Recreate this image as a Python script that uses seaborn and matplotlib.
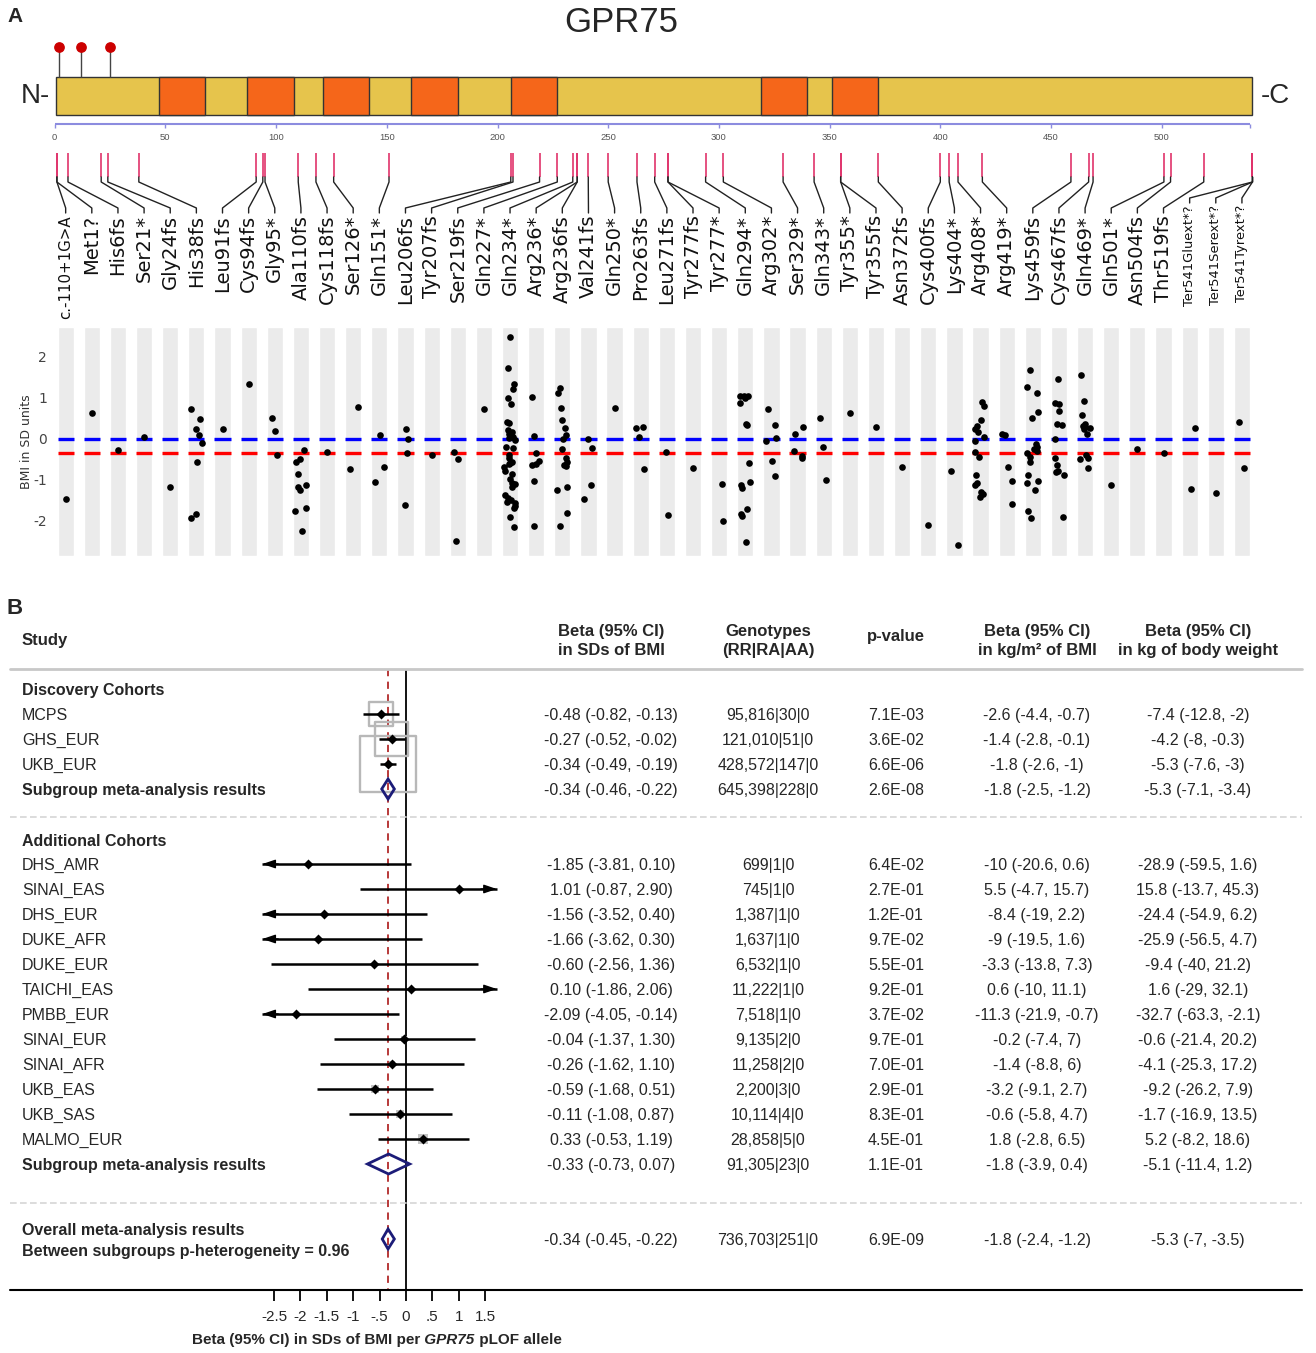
import numpy as np
import pandas as pd
import matplotlib
matplotlib.use("Agg")
import matplotlib.pyplot as plt
from matplotlib import font_manager
from matplotlib.patches import Rectangle, Polygon
import seaborn as sns

# ---------------- Panel A data: GPR75 protein + pLOF variants ----------------
protein_len = 541
tm_domains = [(47, 68), (87, 108), (121, 142), (161, 182), (206, 227), (319, 340), (351, 372)]
glyco_sites = [2, 12, 25]
protein_ticks = [0, 50, 100, 150, 200, 250, 300, 350, 400, 450, 500]

variants = ["c.-110+1G>A", "Met1?", "His6fs", "Ser21*", "Gly24fs", "His38fs", "Leu91fs",
            "Cys94fs", "Gly95*", "Ala110fs", "Cys118fs", "Ser126*", "Gln151*", "Leu206fs",
            "Tyr207fs", "Ser219fs", "Gln227*", "Gln234*", "Arg236*", "Arg236fs", "Val241fs",
            "Gln250*", "Pro263fs", "Leu271fs", "Tyr277fs", "Tyr277*", "Gln294*", "Arg302*",
            "Ser329*", "Gln343*", "Tyr355*", "Tyr355fs", "Asn372fs", "Cys400fs", "Lys404*",
            "Arg408*", "Arg419*", "Lys459fs", "Cys467fs", "Gln469*", "Gln501*", "Asn504fs",
            "Thr519fs", "Ter541Gluext*?", "Ter541Serext*?", "Ter541Tyrext*?"]
variant_pos = [1, 1, 6, 21, 24, 38, 91, 94, 95, 110, 118, 126, 151, 206, 207, 219, 227, 234,
               236, 236, 241, 250, 263, 271, 277, 277, 294, 302, 329, 343, 355, 355, 372, 400,
               404, 408, 419, 459, 467, 469, 501, 504, 519, 541, 541, 541]

# BMI (SD units) of carriers, one list per variant
bmi_sd = [
    [-1.48],
    [0.63],
    [-0.27],
    [0.05],
    [-1.19],
    [0.71, 0.48, 0.24, 0.08, -0.11, -0.56, -1.83, -1.94],
    [0.24],
    [1.33],
    [0.50, 0.19, -0.40],
    [-0.27, -0.50, -0.57, -0.87, -1.12, -1.19, -1.26, -1.68, -1.76, -2.25],
    [-0.32],
    [0.77, -0.75],
    [0.08, -0.70, -1.05],
    [0.23, 0.00, -0.35, -1.61],
    [-0.39],
    [-0.32, -0.50, -2.50],
    [0.71],
    [2.47, 1.73, 1.33, 1.21, 1.00, 0.85, 0.41, 0.39, 0.21, 0.15, 0.11, 0.09, 0.05, 0.02,
     -0.03, -0.20, -0.24, -0.41, -0.46, -0.58, -0.60, -0.62, -0.68, -0.78, -0.86, -0.98,
     -1.08, -1.11, -1.19, -1.37, -1.45, -1.50, -1.54, -1.58, -1.65, -1.70, -1.92, -2.15],
    [1.02, 0.07, -0.34, -0.54, -0.62, -0.64, -1.04, -2.14],
    [1.23, 1.11, 0.75, 0.46, 0.25, 0.10, -0.02, -0.26, -0.48, -0.56, -0.64, -0.66, -1.17,
     -1.24, -1.82, -2.12],
    [-0.02, -0.24, -1.14, -1.48],
    [0.75],
    [0.28, 0.27, 0.05, -0.73],
    [-0.33, -1.85],
    [-0.72],
    [-1.10, -2.01],
    [1.05, 1.04, 1.03, 1.00, 0.88, 0.36, 0.32, -0.59, -1.05, -1.13, -1.21, -1.72, -1.83,
     -1.89, -2.53],
    [0.72, 0.33, 0.01, -0.06, -0.54, -0.90],
    [0.29, 0.12, -0.29, -0.42, -0.47],
    [0.50, -0.20, -1.02],
    [0.63],
    [0.28],
    [-0.69],
    [-2.11],
    [-2.60, -0.80],
    [0.89, 0.80, 0.46, 0.31, 0.24, 0.15, 0.03, -0.07, -0.33, -0.45, -0.89, -1.09, -1.13,
     -1.29, -1.36, -1.43],
    [0.12, 0.08, -0.69, -1.03, -1.59],
    [1.67, 1.26, 1.11, 0.64, 0.50, -0.14, -0.20, -0.25, -0.30, -0.34, -0.44, -0.57, -0.89,
     -1.03, -1.08, -1.26, -1.77, -1.93],
    [1.46, 0.88, 0.84, 0.67, 0.36, 0.33, 0.00, -0.47, -0.64, -0.78, -0.81, -0.89, -1.91],
    [1.54, 0.92, 0.58, 0.35, 0.31, 0.28, 0.27, 0.24, 0.12, -0.40, -0.46, -0.50, -0.71],
    [-1.14],
    [-0.26],
    [-0.36],
    [0.26, -1.22],
    [-1.33],
    [0.41, -0.71],
]
bmi_ref = 0.0
bmi_plof_mean = -0.34

# ---------------- Panel B data: forest plot ----------------
disc_names = ["MCPS", "GHS_EUR", "UKB_EUR"]
disc_beta = [-0.48, -0.27, -0.34]
disc_lo = [-0.82, -0.52, -0.49]
disc_hi = [-0.13, -0.02, -0.19]
disc_geno = ["95,816|30|0", "121,010|51|0", "428,572|147|0"]
disc_p = ["7.1E-03", "3.6E-02", "6.6E-06"]
disc_kgm2 = ["-2.6 (-4.4, -0.7)", "-1.4 (-2.8, -0.1)", "-1.8 (-2.6, -1)"]
disc_kg = ["-7.4 (-12.8, -2)", "-4.2 (-8, -0.3)", "-5.3 (-7.6, -3)"]

add_names = ["DHS_AMR", "SINAI_EAS", "DHS_EUR", "DUKE_AFR", "DUKE_EUR", "TAICHI_EAS",
             "PMBB_EUR", "SINAI_EUR", "SINAI_AFR", "UKB_EAS", "UKB_SAS", "MALMO_EUR"]
add_beta = [-1.85, 1.01, -1.56, -1.66, -0.60, 0.10, -2.09, -0.04, -0.26, -0.59, -0.11, 0.33]
add_lo = [-3.81, -0.87, -3.52, -3.62, -2.56, -1.86, -4.05, -1.37, -1.62, -1.68, -1.08, -0.53]
add_hi = [0.10, 2.90, 0.40, 0.30, 1.36, 2.06, -0.14, 1.30, 1.10, 0.51, 0.87, 1.19]
add_geno = ["699|1|0", "745|1|0", "1,387|1|0", "1,637|1|0", "6,532|1|0", "11,222|1|0",
            "7,518|1|0", "9,135|2|0", "11,258|2|0", "2,200|3|0", "10,114|4|0", "28,858|5|0"]
add_p = ["6.4E-02", "2.7E-01", "1.2E-01", "9.7E-02", "5.5E-01", "9.2E-01", "3.7E-02",
         "9.7E-01", "7.0E-01", "2.9E-01", "8.3E-01", "4.5E-01"]
add_kgm2 = ["-10 (-20.6, 0.6)", "5.5 (-4.7, 15.7)", "-8.4 (-19, 2.2)", "-9 (-19.5, 1.6)",
            "-3.3 (-13.8, 7.3)", "0.6 (-10, 11.1)", "-11.3 (-21.9, -0.7)", "-0.2 (-7.4, 7)",
            "-1.4 (-8.8, 6)", "-3.2 (-9.1, 2.7)", "-0.6 (-5.8, 4.7)", "1.8 (-2.8, 6.5)"]
add_kg = ["-28.9 (-59.5, 1.6)", "15.8 (-13.7, 45.3)", "-24.4 (-54.9, 6.2)",
          "-25.9 (-56.5, 4.7)", "-9.4 (-40, 21.2)", "1.6 (-29, 32.1)", "-32.7 (-63.3, -2.1)",
          "-0.6 (-21.4, 20.2)", "-4.1 (-25.3, 17.2)", "-9.2 (-26.2, 7.9)",
          "-1.7 (-16.9, 13.5)", "5.2 (-8.2, 18.6)"]

sub_beta = [-0.34, -0.33]
sub_lo = [-0.46, -0.73]
sub_hi = [-0.22, 0.07]
sub_geno = ["645,398|228|0", "91,305|23|0"]
sub_p = ["2.6E-08", "1.1E-01"]
sub_kgm2 = ["-1.8 (-2.5, -1.2)", "-1.8 (-3.9, 0.4)"]
sub_kg = ["-5.3 (-7.1, -3.4)", "-5.1 (-11.4, 1.2)"]

overall_beta, overall_lo, overall_hi = -0.34, -0.45, -0.22
overall_geno = "736,703|251|0"
overall_p = "6.9E-09"
overall_kgm2 = "-1.8 (-2.4, -1.2)"
overall_kg = "-5.3 (-7, -3.5)"
p_het = 0.96
forest_ticks = [-2.5, -2, -1.5, -1, -0.5, 0, 0.5, 1, 1.5]

# ---------------- figure setup ----------------
sns.set_theme(style="white")
plt.rcParams["font.family"] = ["Liberation Sans", "DejaVu Sans"]

# narrow font for the table numbers if it is installed
try:
    font_manager.findfont("Liberation Sans Narrow", fallback_to_default=False)
    NARROW, NUM_FS, HEAD_FS = "Liberation Sans Narrow", 13.5, 14
except ValueError:
    NARROW, NUM_FS, HEAD_FS = "Liberation Sans", 11.5, 12

W, H = 1316, 1353
fig = plt.figure(figsize=(W / 100, H / 100), dpi=100, facecolor="white")


def rect(x0, y0, x1, y1):
    return [x0 / W, 1 - y1 / H, (x1 - x0) / W, (y1 - y0) / H]


YELLOW = "#e6c44c"
ORANGE = "#f5661a"

# protein track axes: x in residues, y in pixels from the top
RES0, PPR = 54.7, 2.214
ax_top = fig.add_axes(rect(0, 0, W, 330))
ax_top.set_xlim(-RES0 / PPR, (W - RES0) / PPR)
ax_top.set_ylim(330, 0)
ax_top.axis("off")

# scatter axes (one grey panel per variant)
ax_sc = fig.add_axes(rect(52.6, 327, 1255, 556))
ax_sc.patch.set_alpha(0)

df = pd.DataFrame({
    "variant": np.repeat(variants, [len(v) for v in bmi_sd]),
    "bmi": np.concatenate(bmi_sd),
})
np.random.seed(7)
sns.stripplot(data=df, x="variant", y="bmi", order=variants, color="black", size=4.8,
              jitter=0.22, linewidth=0, ax=ax_sc, zorder=4)

xs = np.arange(len(variants))
ylo, yhi = -2.86, 2.72
ax_sc.bar(xs, yhi - ylo, bottom=ylo, width=0.62, color="#ebebeb", zorder=0)
ax_sc.hlines(np.full(len(xs), bmi_ref), xs - 0.31, xs + 0.31, color="#0000ff", lw=2.4,
             zorder=2)
ax_sc.hlines(np.full(len(xs), bmi_plof_mean), xs - 0.31, xs + 0.31, color="#ff0000", lw=2.4,
             zorder=2)
ax_sc.set_xlim(-0.5, len(variants) - 0.5)
ax_sc.set_ylim(ylo, yhi)
ax_sc.set_xticks([])
ax_sc.set_xlabel("")
ax_sc.set_yticks([-2, -1, 0, 1, 2])
ax_sc.set_yticklabels(["-2", "-1", "0", "1", "2"], family="DejaVu Sans")
ax_sc.tick_params(axis="y", length=0, pad=4, labelsize=10, labelcolor="#444444")
ax_sc.set_ylabel("BMI in SD units", fontsize=9, labelpad=0, color="#333333",
                 family="DejaVu Sans")
for sp in ax_sc.spines.values():
    sp.set_visible(False)

# protein bar
ax_top.add_patch(Rectangle((0.5, 77), protein_len - 0.5, 38, facecolor=YELLOW,
                           edgecolor="#333333", lw=1))
for a, b in tm_domains:
    ax_top.add_patch(Rectangle((a, 77), b - a, 38, facecolor=ORANGE,
                               edgecolor="#333333", lw=1))
ax_top.vlines(glyco_sites, 47, 77, color="#444444", lw=1)
ax_top.scatter(glyco_sites, [47] * len(glyco_sites), s=45, color="#cc0000", zorder=3)

# residue axis
ax_top.hlines(124, 0, protein_len - 1, color="#8c8cdf", lw=1.5)
ax_top.vlines(protein_ticks + [protein_len - 1], 124, 128, color="#8c8cdf", lw=1)
for t in protein_ticks:
    ax_top.text(t, 137, str(t), fontsize=6.8, ha="center", va="center", color="#555555")

# variant markers, connectors and labels
ax_top.vlines(variant_pos, 153, 177, color="#e0336b", lw=1.2)
to_top = ax_top.transData.inverted()
for i, (name, pos) in enumerate(zip(variants, variant_pos)):
    lx = to_top.transform(ax_sc.transData.transform((i, 0)))[0]
    small = name.startswith("Ter541")
    y_end = 198 if small else 208
    ax_top.plot([pos, pos, lx, lx], [177, 182, y_end, y_end + 5], color="#222222", lw=1)
    fs = 9.4 if small else (10.8 if name.startswith("c.") else 14)
    ax_top.text(lx, y_end + 7, name, rotation=90, ha="center", va="top", fontsize=fs,
                family="DejaVu Sans", color="#111111")

fig.text(621 / W, 1 - 22 / H, "GPR75", ha="center", va="center", fontsize=25)
fig.text(35 / W, 1 - 96 / H, "N-", ha="center", va="center", fontsize=20)
fig.text(1275 / W, 1 - 96 / H, "-C", ha="center", va="center", fontsize=20)
fig.text(15 / W, 1 - 16 / H, "A", ha="center", va="center", fontsize=15, fontweight="bold")
fig.text(15 / W, 1 - 608 / H, "B", ha="center", va="center", fontsize=16, fontweight="bold")

# ---------------- Panel B: forest plot ----------------
X0, PXU = 406, 52.8      # pixel of beta=0, pixels per beta unit
Y0, PXR = 714, 25        # pixel of first row, pixels per row
ax_f = fig.add_axes(rect(0, 590, W, H))
ax_f.set_xlim(-X0 / PXU, (W - X0) / PXU)
ax_f.set_ylim((H - Y0) / PXR, (590 - Y0) / PXR)
ax_f.axis("off")
tr = ax_f.get_yaxis_transform()   # x in axes fraction, y in rows

disc_k = np.arange(len(disc_names))
add_k = np.arange(len(add_names)) + 6
sub_k = [3, 18]
overall_k = 21
top_k, bottom_k = -1.8, 23.04
clip_lo, clip_hi = -2.72, 1.72


def draw_study(b, lo, hi, k, open_box):
    se = (hi - lo) / (2 * 1.96)
    side = 4.24 / se * 0.72
    if open_box:
        ax_f.scatter([b], [k], marker="s", s=side ** 2, facecolors="none",
                     edgecolors="#b8b8b8", linewidths=1.7, zorder=2)
    else:
        ax_f.scatter([b], [k], marker="s", s=side ** 2, color="#c4c4c4", lw=0, zorder=2)
    ax_f.hlines(k, max(lo, clip_lo), min(hi, clip_hi), color="black", lw=1.8, zorder=3)
    arrow = dict(arrowstyle="-|>,head_length=0.65,head_width=0.22", color="black", lw=1.0,
                 shrinkA=0, shrinkB=0, mutation_scale=12)
    if lo < clip_lo:
        ax_f.annotate("", xy=(clip_lo, k), xytext=(clip_lo + 0.3, k), arrowprops=arrow,
                      zorder=3)
    if hi > clip_hi:
        ax_f.annotate("", xy=(clip_hi, k), xytext=(clip_hi - 0.3, k), arrowprops=arrow,
                      zorder=3)
    ax_f.scatter([b], [k], marker="D", s=26, color="black", lw=0, zorder=4)


def draw_diamond(b, lo, hi, k):
    ax_f.add_patch(Polygon([(lo, k), (b, k - 0.4), (hi, k), (b, k + 0.4)], closed=True,
                           fill=False, edgecolor="#1c1c78", lw=2, zorder=4))


ax_f.vlines(0, top_k, bottom_k, color="black", lw=1.3, zorder=1)
ax_f.vlines(overall_beta, top_k, bottom_k, color="#b22a2a", lw=1.3,
            linestyles=(0, (4, 3)), zorder=1)

for b, lo, hi, k in zip(disc_beta, disc_lo, disc_hi, disc_k):
    draw_study(b, lo, hi, k, True)
for b, lo, hi, k in zip(add_beta, add_lo, add_hi, add_k):
    draw_study(b, lo, hi, k, False)
for b, lo, hi, k in zip(sub_beta, sub_lo, sub_hi, sub_k):
    draw_diamond(b, lo, hi, k)
draw_diamond(overall_beta, overall_lo, overall_hi, overall_k)

# rules
ax_f.plot([10 / W, 1302 / W], [top_k, top_k], transform=tr, color="#c8c8c8", lw=2)
for yk in [4.12, 19.56]:
    ax_f.plot([10 / W, 1302 / W], [yk, yk], transform=tr, color="#d6d6d6", lw=1.2,
              ls=(0, (4, 2)))
ax_f.plot([10 / W, 1302 / W], [bottom_k, bottom_k], transform=tr, color="black", lw=1.5)

# bottom axis
ax_f.vlines(forest_ticks, bottom_k, bottom_k + 0.45, color="black", lw=1.3)
for t in forest_ticks:
    lab = f"{t:g}"
    if 0 < abs(t) < 1:
        lab = lab.replace("0.", ".")
    ax_f.text(t, 24.12, lab, ha="center", va="center", fontsize=11)
t1 = ax_f.text(-4.05, 25.05, "Beta (95% CI) in SDs of BMI per", ha="left", va="center",
               fontsize=11, fontweight="bold")
t2 = ax_f.annotate(" GPR75", xy=(1, 0), xycoords=t1, ha="left", va="bottom", fontsize=11,
                   fontweight="bold", fontstyle="italic")
ax_f.annotate(" pLOF allele", xy=(1, 0), xycoords=t2, ha="left", va="bottom", fontsize=11,
              fontweight="bold")

# table
col_x = [611 / W, 768 / W, 896 / W, 1037 / W, 1198 / W]
name_x = 22 / W
FS = 11.5
ax_f.text(name_x, -2.92, "Study", transform=tr, ha="left", va="center", fontsize=12,
          fontweight="bold")
headers = ["Beta (95% CI)\nin SDs of BMI", "Genotypes\n(RR|RA|AA)", "p-value",
           "Beta (95% CI)\nin kg/m\u00b2 of BMI", "Beta (95% CI)\nin kg of body weight"]
for cx, h in zip(col_x, headers):
    ax_f.text(cx, -2.92 if "\n" in h else -3.08, h, transform=tr, ha="center", va="center",
              fontsize=HEAD_FS, fontweight="bold", linespacing=1.35, family=NARROW)


def row_text(k, name, b, lo, hi, geno, p, kgm2, kg, bold=False):
    ax_f.text(name_x, k, name, transform=tr, ha="left", va="center_baseline", fontsize=FS,
              fontweight="bold" if bold else "normal")
    vals = [f"{b:.2f} ({lo:.2f}, {hi:.2f})", geno, p, kgm2, kg]
    for cx, v in zip(col_x, vals):
        ax_f.text(cx, k, v, transform=tr, ha="center", va="center_baseline",
                  fontsize=NUM_FS, family=NARROW)


ax_f.text(name_x, -1.0, "Discovery Cohorts", transform=tr, ha="left", va="center_baseline",
          fontsize=FS, fontweight="bold")
for i, k in enumerate(disc_k):
    row_text(k, disc_names[i], disc_beta[i], disc_lo[i], disc_hi[i], disc_geno[i],
             disc_p[i], disc_kgm2[i], disc_kg[i])
row_text(sub_k[0], "Subgroup meta-analysis results", sub_beta[0], sub_lo[0], sub_hi[0],
         sub_geno[0], sub_p[0], sub_kgm2[0], sub_kg[0], bold=True)

ax_f.text(name_x, 5.05, "Additional Cohorts", transform=tr, ha="left", va="center_baseline",
          fontsize=FS, fontweight="bold")
for i, k in enumerate(add_k):
    row_text(k, add_names[i], add_beta[i], add_lo[i], add_hi[i], add_geno[i],
             add_p[i], add_kgm2[i], add_kg[i])
row_text(sub_k[1], "Subgroup meta-analysis results", sub_beta[1], sub_lo[1], sub_hi[1],
         sub_geno[1], sub_p[1], sub_kgm2[1], sub_kg[1], bold=True)

row_text(overall_k, "", overall_beta, overall_lo, overall_hi, overall_geno, overall_p,
         overall_kgm2, overall_kg)
ax_f.text(name_x, 20.6, "Overall meta-analysis results", transform=tr, ha="left",
          va="center_baseline", fontsize=FS, fontweight="bold")
ax_f.text(name_x, 21.45, f"Between subgroups p-heterogeneity = {p_het:.2f}", transform=tr,
          ha="left", va="center_baseline", fontsize=FS, fontweight="bold")

fig.savefig("out.png", dpi=100, facecolor="white")
